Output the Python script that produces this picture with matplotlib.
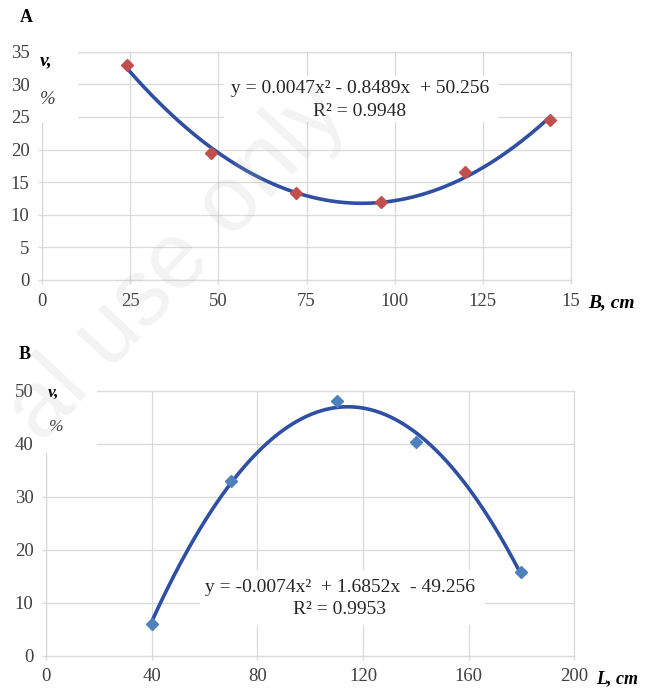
import numpy as np
import matplotlib
matplotlib.use("Agg")
import matplotlib.pyplot as plt
from matplotlib.patches import Rectangle

# --- datos ---
b_cm = [24, 48, 72, 96, 120, 144]
v_a = [33.0, 19.5, 13.3, 12.0, 16.5, 24.5]
eq_a = "y = 0.0047x² - 0.8489x  + 50.256"
r2_a = "R² = 0.9948"
xticks_a = [0, 25, 50, 75, 100, 125, 150]
xticklabels_a = ["0", "25", "50", "75", "100", "125", "15"]
yticks_a = [0, 5, 10, 15, 20, 25, 30, 35]

l_cm = [40, 70, 110, 140, 180]
v_b = [6.0, 33.0, 48.0, 40.3, 15.8]
eq_b = "y = -0.0074x²  + 1.6852x  - 49.256"
r2_b = "R² = 0.9953"
xticks_b = [0, 40, 80, 120, 160, 200]
yticks_b = [0, 10, 20, 30, 40, 50]

W, H = 656, 690
SERIF = "Liberation Serif"
GRID = "#d9d9d9"
TXT = "#404040"
CURVE = "#2f4fa3"

plt.rcParams["font.family"] = SERIF

fig = plt.figure(figsize=(W / 100, H / 100), dpi=100)


def px_axes(x0, y0, x1, y1):
    # rectángulo en píxeles (origen arriba a la izquierda) -> fracción de figura
    return fig.add_axes([x0 / W, 1 - y1 / H, (x1 - x0) / W, (y1 - y0) / H])


def style(ax, xt, yt, xl, yl):
    ax.set_facecolor("none")
    ax.set_xlim(*xl)
    ax.set_ylim(*yl)
    ax.set_xticks(xt)
    ax.set_yticks(yt)
    ax.set_axisbelow(True)
    ax.grid(True, color=GRID, lw=0.9)
    for s in ax.spines.values():
        s.set_color(GRID)
        s.set_linewidth(0.9)
    ax.tick_params(length=3, color=GRID, width=0.9, labelsize=13.5,
                   labelcolor=TXT, pad=6)


def fig_text(x, y, s, **kw):
    fig.text(x / W, 1 - y / H, s, ha="center", va="center", **kw)


def draw(ax, x, y, marker_color, eq, r2, box, eq_pos):
    coef = np.polyfit(x, y, 2)
    xs = np.linspace(min(x), max(x), 200)
    ax.plot(xs, np.polyval(coef, xs), color=CURVE, lw=2.6, zorder=4,
            solid_capstyle="round")
    ax.plot(x, y, ls="none", marker="D", ms=6.5, color=marker_color,
            mec=marker_color, zorder=5, clip_on=False)
    # caja blanca detrás de la ecuación
    bx0, by0, bx1, by1 = box
    ax.add_patch(Rectangle((bx0, by0), bx1 - bx0, by1 - by0, transform=ax.transAxes,
                           facecolor="white", edgecolor="none", zorder=3))
    ex, ey1, ey2 = eq_pos
    ax.text(ex, ey1, eq, transform=ax.transAxes, ha="center", va="center",
            fontsize=14, color="#262626", zorder=6)
    ax.text(ex, ey2, r2, transform=ax.transAxes, ha="center", va="center",
            fontsize=14, color="#262626", zorder=6)


# --- panel A ---
ax1 = px_axes(42, 51.7, 571, 280)
style(ax1, xticks_a, yticks_a, (0, 150), (0, 35))
ax1.set_xticklabels(xticklabels_a)
ax1.add_patch(Rectangle((-0.012, 0.688), 0.08, 0.34, transform=ax1.transAxes,
                        facecolor="white", edgecolor="none", zorder=3, clip_on=False))
draw(ax1, b_cm, v_a, "#c0504d", eq_a, r2_a,
     (0.344, 0.692, 0.862, 0.894), (0.601, 0.837, 0.740))

# --- panel B ---
ax2 = px_axes(46, 390.7, 574.3, 655.7)
style(ax2, xticks_b, yticks_b, (0, 200), (0, 50))
ax2.add_patch(Rectangle((-0.012, 0.765), 0.108, 0.26, transform=ax2.transAxes,
                        facecolor="white", edgecolor="none", zorder=3, clip_on=False))
draw(ax2, l_cm, v_b, "#4f81bd", eq_b, r2_b,
     (0.2915, 0.116, 0.831, 0.323), (0.5565, 0.2555, 0.1725))

# --- textos ---
fig_text(26, 18, "A", fontsize=13, fontweight="bold", color="black")
fig_text(25, 355, "B", fontsize=13, fontweight="bold", color="black")
fig_text(46.5, 61, "v,", fontsize=14, fontweight="bold", style="italic", zorder=7)
fig_text(48, 100, "%", fontsize=13.5, style="italic", color=TXT, zorder=7)
fig_text(54, 393, "v,", fontsize=12.5, fontweight="bold", style="italic", zorder=7)
fig_text(56, 427, "%", fontsize=12.5, style="italic", color=TXT, zorder=7)
fig_text(611, 303, "B, cm", fontsize=14, fontweight="bold", style="italic")
fig_text(617, 679, "L, cm", fontsize=13, fontweight="bold", style="italic")

# marca de agua
fig.text(178 / W, 1 - 262 / H, "al use only", ha="center", va="center",
         rotation=47, rotation_mode="anchor", fontsize=68,
         family="Liberation Sans", color="#b0b0b0", alpha=0.15, zorder=10)

fig.savefig("out.png", dpi=100)
